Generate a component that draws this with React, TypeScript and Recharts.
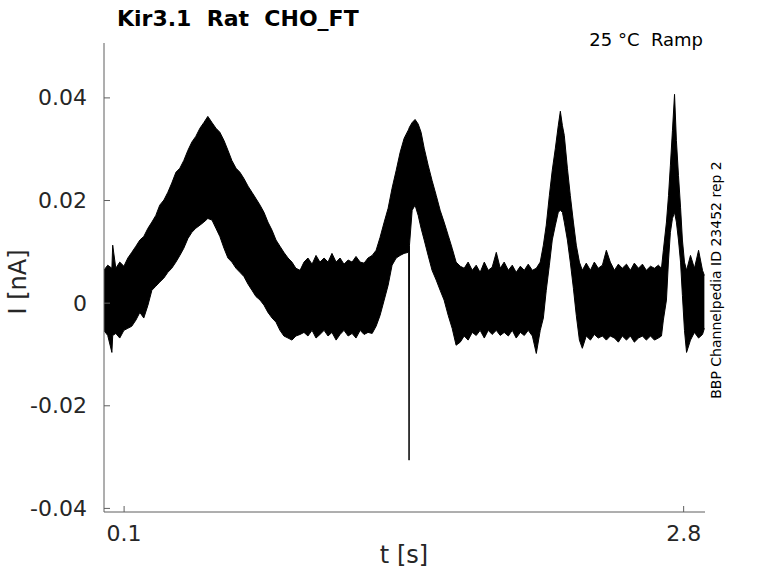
import React from "react";
import { ComposedChart, Area, XAxis, YAxis } from "recharts";

// time samples [s] and envelope of the noisy current trace, read in pA (1 pA = 0.001 nA)
const TIME = [
  0.002, 0.021, 0.041, 0.045, 0.06, 0.079, 0.099, 0.118, 0.137, 0.157, 0.176, 0.195, 0.215, 0.234,
  0.253, 0.272, 0.292, 0.311, 0.33, 0.35, 0.369, 0.388, 0.408, 0.427, 0.446, 0.466, 0.485, 0.504,
  0.524, 0.543, 0.562, 0.582, 0.601, 0.62, 0.64, 0.659, 0.678, 0.698, 0.717, 0.736, 0.756, 0.775,
  0.794, 0.814, 0.833, 0.852, 0.871, 0.891, 0.91, 0.929, 0.949, 0.968, 0.987, 1.007, 1.026, 1.045,
  1.065, 1.084, 1.103, 1.123, 1.142, 1.161, 1.181, 1.2, 1.219, 1.239, 1.258, 1.277, 1.297, 1.316,
  1.335, 1.355, 1.374, 1.393, 1.413, 1.432, 1.451, 1.471, 1.473, 1.475, 1.477, 1.49, 1.504, 1.519,
  1.533, 1.548, 1.567, 1.586, 1.606, 1.625, 1.644, 1.664, 1.683, 1.702, 1.722, 1.741, 1.76, 1.78,
  1.799, 1.818, 1.838, 1.857, 1.876, 1.896, 1.915, 1.934, 1.954, 1.973, 1.992, 2.012, 2.031, 2.05,
  2.07, 2.089, 2.108, 2.123, 2.137, 2.152, 2.166, 2.181, 2.195, 2.205, 2.215, 2.224, 2.239, 2.253,
  2.268, 2.282, 2.297, 2.311, 2.33, 2.35, 2.369, 2.388, 2.408, 2.427, 2.446, 2.466, 2.485, 2.504,
  2.524, 2.543, 2.562, 2.582, 2.601, 2.62, 2.64, 2.659, 2.678, 2.693, 2.702, 2.717, 2.727, 2.736,
  2.746, 2.756, 2.765, 2.775, 2.785, 2.794, 2.804, 2.814, 2.833, 2.852, 2.872, 2.891, 2.9,
];

const UPPER = [
  6.4, 7.4, 6.8, 11.3, 6.8, 8.0, 7.2, 8.8, 9.9, 11.1, 12.3, 13.0, 14.6, 15.8,
  17.1, 19.1, 20.1, 21.6, 23.4, 25.5, 26.3, 27.8, 29.8, 31.4, 32.5, 34.1, 35.2, 36.4,
  35.2, 34.1, 33.3, 31.7, 29.8, 27.8, 26.3, 25.5, 24.3, 22.8, 21.6, 20.4, 19.1, 17.7,
  15.8, 14.2, 12.3, 11.1, 9.9, 8.8, 8.0, 6.8, 6.4, 8.0, 8.8, 7.6, 9.3, 8.0,
  8.8, 8.0, 9.7, 8.0, 8.8, 7.6, 8.4, 8.0, 9.1, 8.0, 7.8, 8.8, 9.3, 10.3,
  12.8, 15.8, 18.5, 22.4, 25.9, 29.4, 32.1, 33.7, 33.9, 34.1, 34.3, 35.2, 35.8, 34.9,
  33.3, 30.2, 26.9, 23.9, 21.0, 18.1, 15.8, 13.2, 10.7, 8.0, 7.2, 6.8, 8.0, 6.4,
  7.4, 6.0, 8.0, 6.4, 7.0, 9.9, 6.8, 8.0, 6.4, 7.4, 6.0, 7.2, 6.4, 7.6,
  6.4, 6.8, 8.0, 11.3, 15.2, 21.0, 25.9, 30.2, 34.6, 37.4, 34.6, 32.7, 26.3, 21.0,
  15.8, 11.3, 8.0, 6.4, 7.8, 6.4, 8.0, 6.8, 7.4, 10.3, 8.0, 6.4, 7.6, 6.8,
  7.6, 6.4, 7.8, 6.8, 7.6, 6.4, 7.2, 6.8, 7.4, 6.8, 10.3, 15.8, 21.0, 26.9,
  33.7, 40.7, 31.7, 24.9, 18.7, 12.3, 8.0, 6.4, 9.3, 6.8, 10.3, 6.4, 5.4,
];

const LOWER = [
  -5.3, -6.3, -9.6, -6.3, -5.9, -6.8, -5.3, -4.9, -4.5, -3.3, -1.8, -2.9, -0.4, 2.5,
  3.3, 4.1, 4.9, 6.0, 6.8, 8.0, 9.3, 10.7, 12.6, 13.8, 14.6, 15.2, 15.8, 16.5,
  16.2, 14.6, 13.0, 10.7, 8.8, 8.0, 6.8, 6.0, 5.2, 3.7, 2.5, 1.3, 0.6, -0.4,
  -1.8, -2.9, -3.7, -5.3, -6.4, -6.8, -7.2, -6.4, -6.1, -5.7, -6.4, -5.3, -6.8, -6.1,
  -5.3, -6.4, -5.7, -7.2, -6.1, -5.3, -6.4, -5.9, -6.8, -5.3, -6.1, -5.7, -5.9, -4.5,
  -2.4, 0.6, 3.5, 7.4, 8.8, 9.3, 9.7, 9.9, 9.9, -30.6, 11.3, 18.1, 19.1, 17.1,
  14.6, 12.3, 9.3, 6.4, 4.5, 2.5, 0.6, -2.4, -4.9, -8.2, -7.6, -6.4, -7.2, -5.7,
  -6.3, -5.3, -6.8, -5.3, -6.1, -5.3, -6.3, -5.7, -6.4, -5.3, -6.8, -5.7, -6.3, -5.3,
  -6.4, -9.8, -5.3, -2.9, 2.5, 7.4, 12.3, 15.2, 17.7, 18.1, 17.7, 15.8, 12.3, 8.0,
  2.9, -2.4, -7.2, -8.8, -6.4, -7.2, -6.1, -6.8, -6.4, -7.2, -6.4, -6.8, -7.6, -6.4,
  -7.2, -6.4, -7.6, -6.8, -6.4, -7.2, -6.4, -7.2, -6.8, -6.4, -3.3, 0.6, 8.4, 13.8,
  16.5, 17.7, 15.8, 12.3, 8.0, 1.5, -5.3, -9.6, -7.2, -5.7, -6.8, -6.1, -4.9,
];

const X_TICKS = [0.1, 2.8];
const Y_TICKS = [-40, -20, 0, 20, 40];

const data = TIME.map((t, i) => ({ t, range: [LOWER[i], UPPER[i]] }));

const FONT = "DejaVu Sans";
const AXIS = "#5f5f5f";
const TEXT = "#262626";

function YTick(props: any) {
  const { x, y, payload } = props;
  return (
    <g>
      <line x1={x} y1={y} x2={x + 6} y2={y} stroke={AXIS} strokeWidth={1} />
      <text x={x - 17} y={y} textAnchor="end" dominantBaseline="central" fontSize={22} fontFamily={FONT} fill={TEXT}>
        {String(payload.value / 1000)}
      </text>
    </g>
  );
}

function XTick(props: any) {
  const { x, y, payload } = props;
  return (
    <g>
      <line x1={x} y1={y} x2={x} y2={y - 6} stroke={AXIS} strokeWidth={1} />
      <text x={x} y={y + 21} textAnchor="middle" dominantBaseline="central" fontSize={22} fontFamily={FONT} fill={TEXT}>
        {String(payload.value)}
      </text>
    </g>
  );
}

export default function App() {
  return (
    <div style={{ position: "absolute", left: 0, top: 0, width: 778, height: 583, background: "#fff" }}>
      <ComposedChart width={778} height={583} data={data} margin={{ top: 43, right: 73, bottom: 21, left: 14 }}>
        <XAxis
          dataKey="t"
          type="number"
          domain={[0.003, 2.903]}
          ticks={X_TICKS}
          allowDataOverflow
          height={50}
          stroke={AXIS}
          tickLine={false}
          tickSize={0}
          tickMargin={0}
          tick={<XTick />}
        />
        <YAxis
          type="number"
          domain={[-40.7, 50.7]}
          ticks={Y_TICKS}
          allowDataOverflow
          width={90}
          stroke={AXIS}
          tickLine={false}
          tickSize={0}
          tickMargin={0}
          tick={<YTick />}
        />
        <Area
          dataKey="range"
          type="linear"
          stroke="#000"
          strokeWidth={1}
          fill="#000"
          fillOpacity={1}
          dot={false}
          activeDot={false}
          isAnimationActive={false}
        />
      </ComposedChart>
      <svg width={778} height={583} style={{ position: "absolute", left: 0, top: 0, pointerEvents: "none" }}>
        <text x={117} y={26} fontSize={22} fontWeight="bold" fontFamily={FONT} fill="#000" style={{ whiteSpace: "pre" }}>
          {"Kir3.1  Rat  CHO_FT"}
        </text>
        <text x={703} y={46} textAnchor="end" fontSize={18} fontFamily={FONT} fill="#000" style={{ whiteSpace: "pre" }}>
          {"25 °C  Ramp"}
        </text>
        <text
          x={716}
          y={280}
          transform="rotate(-90 716 280)"
          textAnchor="middle"
          dominantBaseline="central"
          fontSize={14}
          fontFamily={FONT}
          fill="#000"
        >
          BBP Channelpedia ID 23452 rep 2
        </text>
        <text
          x={18}
          y={282}
          transform="rotate(-90 18 282)"
          textAnchor="middle"
          dominantBaseline="central"
          fontSize={24}
          fontFamily={FONT}
          fill={TEXT}
        >
          I [nA]
        </text>
        <text x={404} y={563} textAnchor="middle" fontSize={24} fontFamily={FONT} fill={TEXT}>
          t [s]
        </text>
      </svg>
    </div>
  );
}
